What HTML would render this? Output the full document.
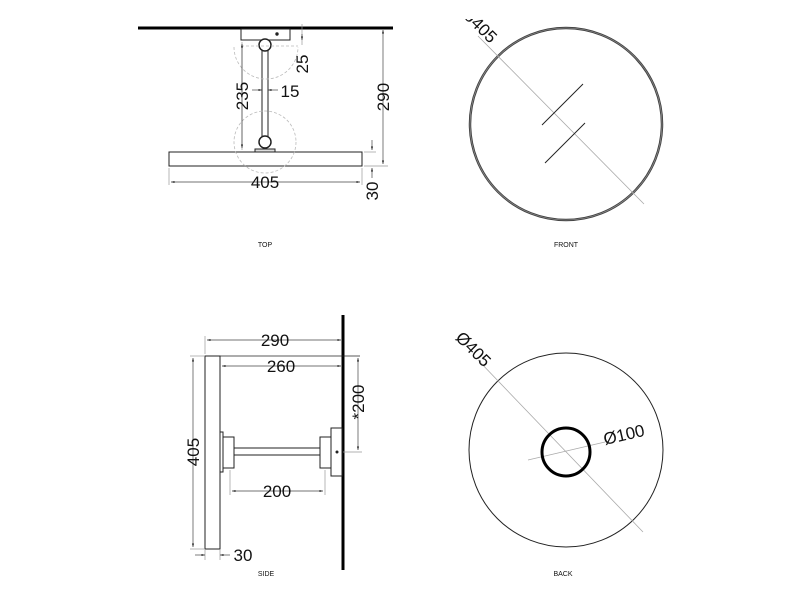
<!DOCTYPE html>
<html><head><style>
html,body{margin:0;padding:0;background:#fff;}
svg{display:block;}
text{font-family:"Liberation Sans",sans-serif;fill:#111;}
</style></head><body>
<svg width="800" height="600" viewBox="0 0 800 600" xmlns="http://www.w3.org/2000/svg">
<defs>
<marker id="a" viewBox="0 0 10 10" refX="10" refY="5" markerWidth="5" markerHeight="5" orient="auto-start-reverse"><path d="M0,2 L10,5 L0,8 z" fill="#222"/></marker>
<clipPath id="c"><rect x="440" y="19" width="100" height="60"/></clipPath>
</defs>
<!-- TOP -->
<g stroke="#222" fill="none">
<line x1="138" y1="28" x2="393" y2="28" stroke-width="3" stroke="#000"/>
<rect x="241" y="29" width="49" height="11" fill="#fff" stroke-width="1"/>
<circle cx="277" cy="34" r="1.2" fill="#222"/>
<rect x="262" y="45" width="6" height="97" fill="#fff"/>
<circle cx="265" cy="45" r="6" fill="#fff" stroke-width="1.5"/>
<circle cx="265" cy="142" r="6" fill="#fff" stroke-width="1.5"/>
<rect x="255" y="149" width="20" height="3" fill="#ddd"/>
<rect x="169" y="152" width="193" height="14" fill="#fff"/>
<g stroke="#bbb" stroke-dasharray="3,2" stroke-width="0.8">
<path d="M234,47 A31,31 0 0 0 298,47"/>
<circle cx="265" cy="142" r="31"/>
<line x1="241" y1="46" x2="298" y2="46"/>
</g>
<g stroke="#999" stroke-width="0.7">
<line x1="169" y1="168" x2="169" y2="185"/><line x1="362" y1="168" x2="362" y2="185"/>
<line x1="242" y1="42" x2="242" y2="150"/>
<line x1="302" y1="24" x2="302" y2="45"/>
<line x1="364" y1="166" x2="388" y2="166"/>
<line x1="364" y1="152" x2="376" y2="152"/>
</g>
<g stroke="#444" stroke-width="0.7">
<line x1="171" y1="182" x2="360" y2="182" marker-start="url(#a)" marker-end="url(#a)"/>
<line x1="383" y1="30" x2="383" y2="164" marker-start="url(#a)" marker-end="url(#a)"/>
<line x1="242" y1="44" x2="242" y2="148" marker-start="url(#a)" marker-end="url(#a)"/>
<line x1="252" y1="90" x2="262" y2="90" marker-end="url(#a)"/>
<line x1="278" y1="90" x2="268" y2="90" marker-end="url(#a)"/>
<line x1="302" y1="34" x2="302" y2="40" marker-end="url(#a)"/>
<line x1="372" y1="140" x2="372" y2="150" marker-end="url(#a)"/>
<line x1="372" y1="178" x2="372" y2="168" marker-end="url(#a)"/>
</g>
</g>
<g font-size="17">
<text x="265" y="188" text-anchor="middle">405</text>
<text x="290" y="97" text-anchor="middle">15</text>
<text transform="translate(389,97) rotate(-90)" text-anchor="middle">290</text>
<text transform="translate(248,96) rotate(-90)" text-anchor="middle">235</text>
<text transform="translate(308,64) rotate(-90)" text-anchor="middle">25</text>
<text transform="translate(378,191) rotate(-90)" text-anchor="middle">30</text>
</g>
<text x="265" y="247" font-size="7" text-anchor="middle">TOP</text>
<!-- FRONT -->
<circle cx="566" cy="124" r="96" fill="none" stroke="#444" stroke-width="2.5"/>
<circle cx="566" cy="124" r="96" fill="none" stroke="#999" stroke-width="0.6"/>
<line x1="478" y1="36" x2="644" y2="204" stroke="#aaa" stroke-width="0.8"/>
<line x1="542" y1="125" x2="583" y2="84" stroke="#222" stroke-width="1"/>
<line x1="545" y1="163" x2="585" y2="123" stroke="#222" stroke-width="1"/>
<g clip-path="url(#c)"><text transform="translate(490,44) rotate(45)" font-size="17" text-anchor="end">ø405</text></g>
<text x="566" y="247" font-size="7" text-anchor="middle">FRONT</text>
<!-- SIDE -->
<g stroke="#222" fill="none">
<line x1="343" y1="315" x2="343" y2="570" stroke-width="3" stroke="#000"/>
<rect x="205" y="356" width="15" height="193" fill="#fff"/>
<line x1="220" y1="356" x2="360" y2="356" stroke-width="0.8"/>
<rect x="220" y="432" width="3" height="40"/>
<rect x="223" y="437" width="11" height="31" fill="#fff"/>
<rect x="320" y="437" width="11" height="31" fill="#fff"/>
<rect x="331" y="428" width="11" height="48" fill="#fff"/>
<rect x="234" y="448" width="86" height="7" fill="#fff"/>
<circle cx="337" cy="452" r="1" fill="#222"/>
<g stroke="#999" stroke-width="0.7">
<line x1="205" y1="336" x2="205" y2="354"/>
<line x1="230" y1="470" x2="230" y2="495"/><line x1="325" y1="470" x2="325" y2="495"/>
<line x1="190" y1="356" x2="204" y2="356"/><line x1="190" y1="549" x2="204" y2="549"/>
<line x1="205" y1="550" x2="205" y2="560"/><line x1="220" y1="550" x2="220" y2="560"/>
<line x1="343" y1="452" x2="362" y2="452"/>
</g>
<g stroke="#444" stroke-width="0.7">
<line x1="207" y1="340" x2="341" y2="340" marker-start="url(#a)" marker-end="url(#a)"/>
<line x1="222" y1="366" x2="341" y2="366" marker-start="url(#a)" marker-end="url(#a)"/>
<line x1="358" y1="358" x2="358" y2="450" marker-start="url(#a)" marker-end="url(#a)"/>
<line x1="232" y1="491" x2="323" y2="491" marker-start="url(#a)" marker-end="url(#a)"/>
<line x1="193" y1="358" x2="193" y2="547" marker-start="url(#a)" marker-end="url(#a)"/>
<line x1="195" y1="555" x2="205" y2="555" marker-end="url(#a)"/>
<line x1="230" y1="555" x2="220" y2="555" marker-end="url(#a)"/>
</g>
</g>
<g font-size="17">
<text x="275" y="346" text-anchor="middle">290</text>
<text x="281" y="372" text-anchor="middle">260</text>
<text x="277" y="497" text-anchor="middle">200</text>
<text x="243" y="561" text-anchor="middle">30</text>
<text transform="translate(199,452) rotate(-90)" text-anchor="middle">405</text>
<text transform="translate(364,402) rotate(-90)" text-anchor="middle">*200</text>
</g>
<text x="266" y="576" font-size="7" text-anchor="middle">SIDE</text>
<!-- BACK -->
<circle cx="566" cy="450" r="97" fill="none" stroke="#222" stroke-width="1"/>
<line x1="478" y1="360" x2="643" y2="532" stroke="#aaa" stroke-width="0.8"/>
<line x1="528" y1="460" x2="605" y2="442" stroke="#aaa" stroke-width="0.8"/>
<circle cx="566" cy="452" r="24" fill="none" stroke="#000" stroke-width="3"/>
<text transform="translate(484,368) rotate(45)" font-size="17" text-anchor="end">Ø405</text>
<text transform="translate(605,445) rotate(-13)" font-size="17">Ø100</text>
<text x="563" y="576" font-size="7" text-anchor="middle">BACK</text>
</svg>
</body></html>
